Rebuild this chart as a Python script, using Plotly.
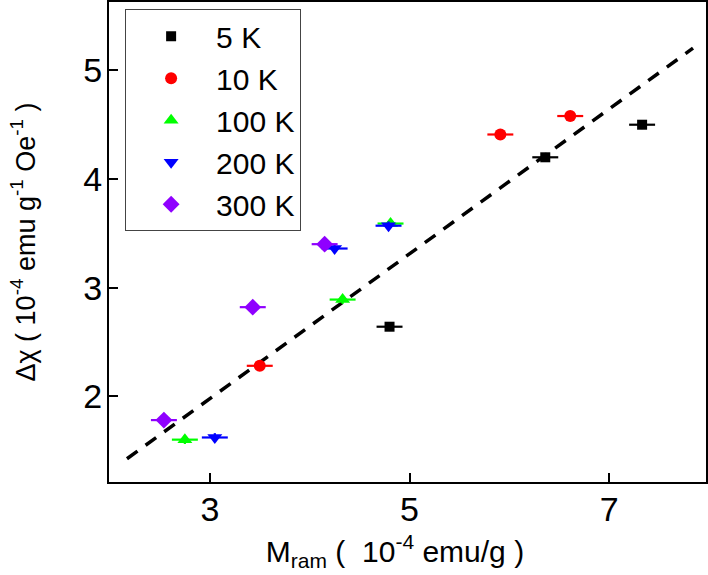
import plotly.graph_objects as go

# ---- data ----
x_5K = [4.80, 6.36, 7.33]
y_5K = [2.64, 4.20, 4.50]
x_10K = [3.50, 5.91, 6.61]
y_10K = [2.28, 4.41, 4.58]
x_100K = [2.75, 4.33, 4.81]
y_100K = [1.60, 2.89, 3.59]
x_200K = [3.05, 4.25, 4.79]
y_200K = [1.62, 3.36, 3.57]
x_300K = [2.54, 3.43, 4.15]
y_300K = [1.78, 2.82, 3.40]
xerr = 0.13
yerr = 0.04
fit_x = [2.17, 7.84]
fit_y = [1.424, 5.205]
x_ticks = [3, 5, 7]
y_ticks = [2, 3, 4, 5]

series = [
    ("5 K", x_5K, y_5K, "square", "#000000", 10),
    ("10 K", x_10K, y_10K, "circle", "#FF0000", 12),
    ("100 K", x_100K, y_100K, "triangle-up", "#00FF00", 13),
    ("200 K", x_200K, y_200K, "triangle-down", "#0000FF", 13),
    ("300 K", x_300K, y_300K, "diamond", "#8F00FF", 13),
]

FONT = "Arial, Liberation Sans, sans-serif"
fig = go.Figure()

fig.add_trace(go.Scatter(
    x=fit_x, y=fit_y, mode="lines", showlegend=False,
    line=dict(color="black", width=3.5, dash="13px,10px"),
))

for name, xs, ys, sym, col, sz in series:
    fig.add_trace(go.Scatter(
        x=xs, y=ys, mode="markers", name=name,
        marker=dict(symbol=sym, color=col, size=sz, line=dict(width=0)),
        error_x=dict(type="constant", value=xerr, color=col, thickness=2.2, width=0),
        error_y=dict(type="constant", value=yerr, color=col, thickness=2.2, width=0),
    ))

fig.update_layout(
    width=708, height=575,
    margin=dict(l=109, r=2, t=2, b=93, autoexpand=False),
    paper_bgcolor="white", plot_bgcolor="white",
    font=dict(family=FONT, color="black"),
    showlegend=True,
    legend=dict(
        x=0.027, y=0.985, xanchor="left", yanchor="top",
        bordercolor="#444444", borderwidth=1, bgcolor="white",
        font=dict(size=30, family=FONT), itemwidth=80,
    ),
    xaxis=dict(
        range=[1.99, 7.97], tickvals=x_ticks, ticktext=[str(v) for v in x_ticks],
        showgrid=False, zeroline=False, showline=True, linecolor="black", linewidth=2,
        mirror=True, ticks="inside", ticklen=9, tickwidth=1.5, tickcolor="black",
        tickfont=dict(size=34, family=FONT), ticklabelstandoff=-4, automargin=False,
        title=dict(text="M<sub>ram</sub> ( &nbsp;10<sup>-4</sup> emu/g )&nbsp;&nbsp;&nbsp;",
                   font=dict(size=30, family=FONT), standoff=14),
    ),
    yaxis=dict(
        range=[1.21, 5.63], tickvals=y_ticks, ticktext=[str(v) for v in y_ticks],
        showgrid=False, zeroline=False, showline=True, linecolor="black", linewidth=2,
        mirror=True, ticks="inside", ticklen=9, tickwidth=1.5, tickcolor="black",
        tickfont=dict(size=34, family=FONT), ticklabelstandoff=-2, automargin=False,
        title=dict(text="Δχ ( 10<sup>-4</sup> emu g<sup>-1</sup> Oe<sup>-1</sup> )",
                   font=dict(size=27, family=FONT), standoff=40),
    ),
)

fig.write_html(
    "out.html",
    config={"displayModeBar": False},
    post_script="document.body.style.margin='0';document.body.style.overflow='hidden';",
)
